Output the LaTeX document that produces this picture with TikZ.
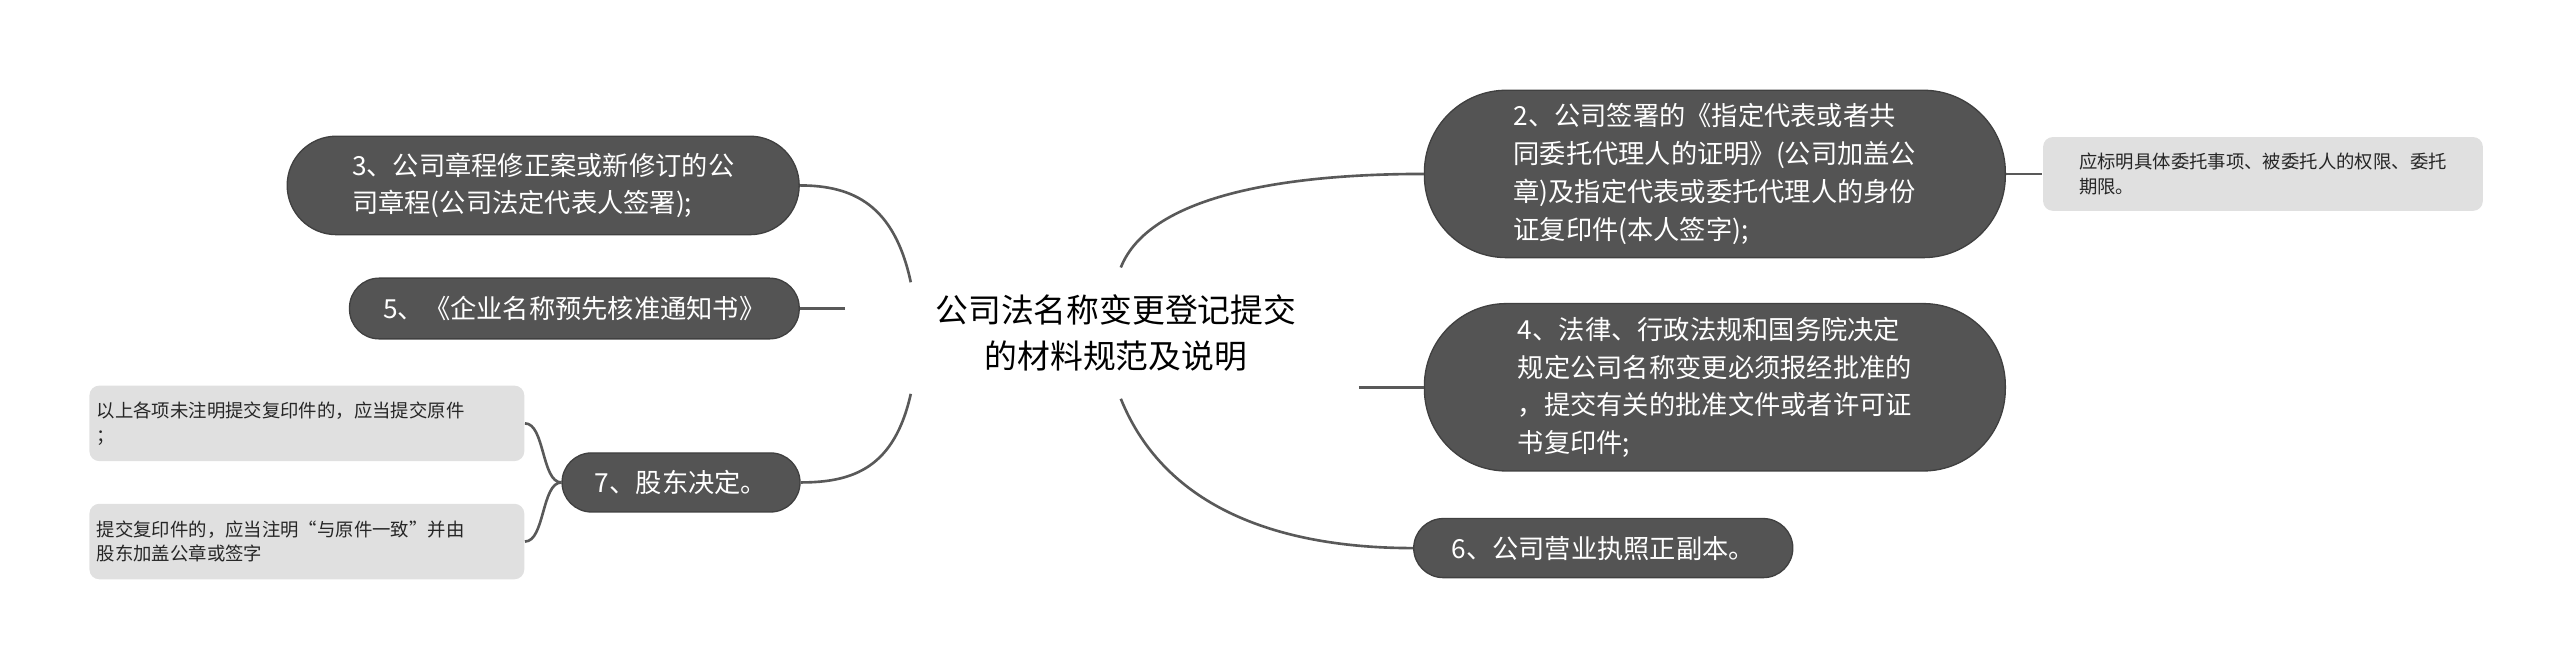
\documentclass[tikz,border=0pt]{standalone}
\usepackage{fontspec}
\newfontfamily\cjk{Noto Sans CJK SC}
\begin{document}
\begin{tikzpicture}[x=0.5pt,y=-0.5pt,
  pill/.style={draw=black!75,fill=black!67,text=white,rounded corners=18pt,font=\cjk\fontsize{8}{11.5}\selectfont,align=left,inner sep=0pt},
  note/.style={fill=black!12,rounded corners=3pt,font=\cjk\fontsize{5.6}{7.5}\selectfont,align=left,inner sep=0pt,text=black!85},
  con/.style={draw=black!65,line width=0.8pt}]
\useasboundingbox (0,0) rectangle (1560,405);
\node[font=\cjk\fontsize{10}{14}\selectfont,align=center] (c) at (680,203) {公司法名称变更登记提交\\的材料规范及说明};
\node[pill,minimum width=177pt,minimum height=51pt,rounded corners=25pt] (n2) at (1045,106) {2、公司签署的《指定代表或者共\\同委托代理人的证明》(公司加盖公\\章)及指定代表或委托代理人的身份\\证复印件(本人签字);};
\node[note,minimum width=134pt,minimum height=22.5pt] (t2) at (1379,106) {应标明具体委托事项、被委托人的权限、委托\\期限。};
\node[pill,minimum width=177pt,minimum height=51pt,rounded corners=25pt] (n4) at (1045,236) {4、法律、行政法规和国务院决定\\规定公司名称变更必须报经批准的\\，提交有关的批准文件或者许可证\\书复印件;};
\node[pill,minimum width=115.5pt,minimum height=18pt,rounded corners=9pt] (n6) at (977,334) {6、公司营业执照正副本。};
\node[pill,minimum width=156pt,minimum height=30pt,rounded corners=15pt] (n3) at (331,113) {3、公司章程修正案或新修订的公\\司章程(公司法定代表人签署);};
\node[pill,minimum width=137pt,minimum height=18.5pt,rounded corners=9pt] (n5) at (350,188) {5、《企业名称预先核准通知书》};
\node[pill,minimum width=72.5pt,minimum height=18pt,rounded corners=9pt] (n7) at (415,294) {7、股东决定。};
\node[note,minimum width=132.5pt,minimum height=23pt,text width=128pt] (ta) at (187,258) {以上各项未注明提交复印件的，应当提交原件\\；};
\node[note,minimum width=132.5pt,minimum height=23pt,text width=128pt] (tb) at (187,330) {提交复印件的，应当注明“与原件一致”并由\\股东加盖公章或签字};
\coordinate (r2) at (683,163);
\coordinate (r4) at (828,236);
\coordinate (r6) at (683,243);
\coordinate (l3) at (555,172);
\coordinate (l5) at (515,188);
\coordinate (l7) at (555,240);
\draw[con] (r2) .. controls (700,120) and (780,106) .. (n2.west);
\draw[con] (r4) -- (n4.west);
\draw[con] (r6) .. controls (710,310) and (780,334) .. (n6.west);
\draw[con] (l3) .. controls (545,125) and (520,113) .. (n3.east);
\draw[con] (l5) -- (n5.east);
\draw[con] (l7) .. controls (545,285) and (520,294) .. (n7.east);
\draw[con] (n2.east) -- (t2.west);
\draw[con] (n7.west) .. controls (330,294) and (332,258) .. (ta.east);
\draw[con] (n7.west) .. controls (330,294) and (332,330) .. (tb.east);
\end{tikzpicture}
\end{document}
